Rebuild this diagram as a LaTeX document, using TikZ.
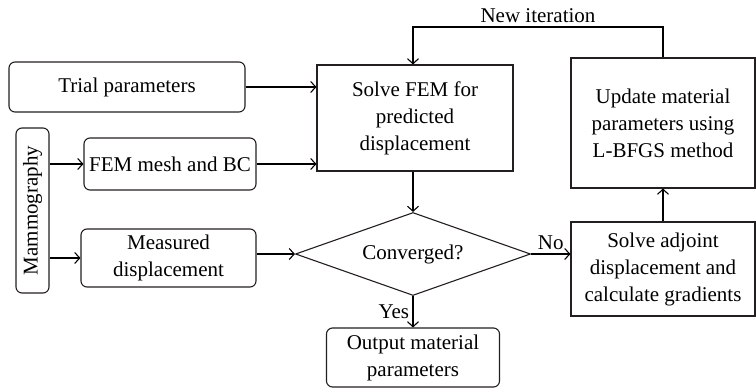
\documentclass[tikz,border=0pt]{standalone}
\usepackage{fontspec}
\setmainfont{Liberation Serif}
\usetikzlibrary{shapes.geometric,arrows.meta}
\definecolor{black}{RGB}{35,31,32}

\begin{document}
\begin{tikzpicture}[x=1pt,y=-1pt,line width=1.1pt,
	rbox/.style={rectangle,rounded corners=6pt,draw=black,align=center,inner sep=0pt},
	sbox/.style={rectangle,draw=black,align=center,inner sep=0pt},
	arr/.style={-{Straight Barb[length=5pt,width=11pt]}},
	font=\fontsize{21}{27}\selectfont]
	\useasboundingbox (0,0) rectangle (756,391);
	\node[rbox,minimum width=236pt,minimum height=50pt] (trial) at (127,87) {Trial parameters};
	\node[rbox,minimum width=165pt,minimum height=33pt,rotate=90] (mammo) at (32.5,210.5) {Mammography};
	\node[rbox,minimum width=172pt,minimum height=52pt] (mesh) at (170,164) {FEM mesh and BC};
	\node[rbox,minimum width=175pt,minimum height=58pt] (measured) at (168.5,258) {Measured\\displacement};
	\node[sbox,minimum width=196pt,minimum height=106pt] (solve) at (415,118) {Solve FEM for\\predicted\\displacement};
	\node[diamond,draw=black,aspect=2.83,inner sep=0pt,minimum width=235pt,minimum height=83pt] (conv) at (413,254) {Converged?};
	\node[rbox,minimum width=173pt,minimum height=59pt] (output) at (413,357.5) {Output material\\parameters};
	\node[sbox,minimum width=184pt,minimum height=94pt] (adjoint) at (663,269) {Solve adjoint\\displacement and\\calculate gradients};
	\node[sbox,minimum width=184pt,minimum height=130pt] (update) at (663,123) {Update material\\parameters using\\L-BFGS method};
	\coordinate (top) at (663,27);

	\foreach \a/\b in {trial/solve,mesh/solve}
		\draw[arr] (\a.east) -- (\a.east -| \b.west);
	\foreach \b in {mesh,measured}
		\draw[arr] (mammo.south |- \b.west) -- (\b.west);
	\draw[arr] (measured.east |- conv.west) -- (conv.west);
	\draw[arr] (solve.south -| conv.north) -- (conv.north);
	\draw[arr] (conv.south) -- (output.north) node[midway,left] {Yes};
	\draw[arr] (conv.east) -- (conv.east -| adjoint.west) node[midway,above] {No};
	\draw[arr] (adjoint.north) -- (update.south);
	\draw[arr] (update.north) -- (top) -- node[above] {New iteration} (top -| conv.north) -- (solve.north -| conv.north);
\end{tikzpicture}
\end{document}
